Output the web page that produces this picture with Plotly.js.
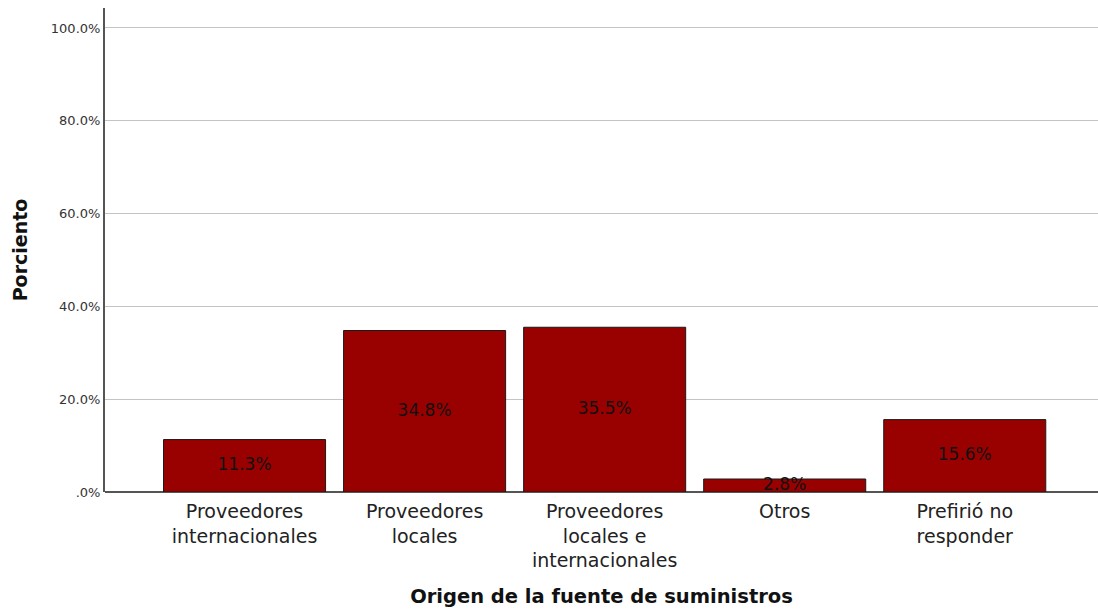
<!DOCTYPE html>
<html>
<head>
<meta charset="utf-8">
<script src="https://cdn.plot.ly/plotly-3.0.1.min.js"></script>
<style>html,body{margin:0;padding:0;background:#fff;}#chart{width:1098px;height:610px;}</style>
</head>
<body>
<div id="chart"></div>
<script>
const categories = ["Proveedores<br>internacionales", "Proveedores<br>locales", "Proveedores<br>locales e<br>internacionales", "Otros", "Prefirió no<br>responder"];
const values = [11.3, 34.8, 35.5, 2.8, 15.6];
const valueLabels = ["11.3%", "34.8%", "35.5%", "2.8%", "15.6%"];
const yTickVals = [0, 20, 40, 60, 80, 100];
const yTickText = [".0%", "20.0%", "40.0%", "60.0%", "80.0%", "100.0%"];

const font = "DejaVu Sans, Verdana, sans-serif";

const bars = {
  type: "bar",
  x: categories,
  y: values,
  width: 0.9,
  marker: {color: "#990000", line: {color: "#1a1a1a", width: 1}},
  hoverinfo: "none",
  showlegend: false
};
const labels = {
  type: "scatter",
  mode: "text",
  x: categories,
  y: values.map(v => v / 2),
  text: valueLabels,
  textposition: "middle center",
  textfont: {family: font, size: 17, color: "#111"},
  hoverinfo: "none",
  showlegend: false,
  cliponaxis: false
};

const layout = {
  width: 1098, height: 610,
  margin: {l: 105, r: 0, t: 8, b: 118},
  paper_bgcolor: "#fff", plot_bgcolor: "#fff",
  font: {family: font, color: "#222"},
  xaxis: {
    type: "category",
    range: [-0.775, 4.74],
    showline: false, showgrid: false, zeroline: false,
    ticks: "",
    ticklabelstandoff: 6,
    tickfont: {family: font, size: 19, color: "#222"},
    title: {text: "Origen de la fuente de suministros", font: {family: font, size: 19.5, color: "#111", weight: "bold"}, standoff: 18},
    automargin: false
  },
  yaxis: {
    range: [0, 104.3],
    tickvals: yTickVals, ticktext: yTickText,
    tickfont: {family: font, size: 13, color: "#333"},
    showline: true, linecolor: "#555", linewidth: 2,
    showgrid: true, gridcolor: "#c4c4c4", gridwidth: 1,
    zeroline: true, zerolinecolor: "#555", zerolinewidth: 2,
    ticks: "", ticklen: 0,
    title: {text: "Porciento", font: {family: font, size: 19, color: "#111", weight: "bold"}, standoff: 18},
    automargin: false
  }
};

Plotly.newPlot("chart", [bars, labels], layout, {displayModeBar: false, staticPlot: true});
</script>
</body>
</html>
